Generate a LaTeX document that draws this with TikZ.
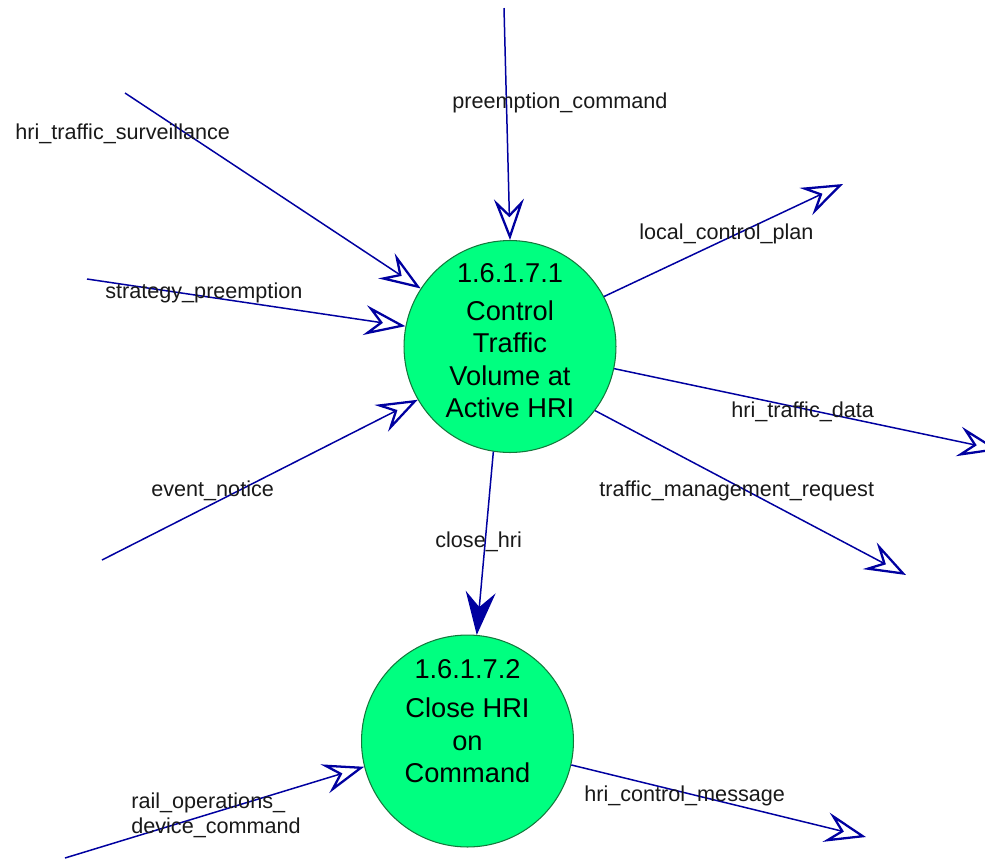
\documentclass[tikz,border=0pt]{standalone}
\usepackage{fontspec}
\setmainfont{Liberation Sans}
\usetikzlibrary{arrows.meta}
\definecolor{flowBlue}{RGB}{0,0,160}
\definecolor{procFill}{RGB}{0,255,128}
\definecolor{procEdge}{RGB}{20,120,60}

\begin{document}
\begin{tikzpicture}[x=0.02cm,y=-0.02cm,
                    procND/.style={circle,
                                   draw=procEdge,
                                   fill=procFill,
                                   line width=0.6pt,
                                   minimum size=4.24cm,
                                   inner sep=0pt},
                    procTxt/.style={anchor=north,
                                    align=center,
                                    inner sep=0pt,
                                    font=\fontsize{15.5}{18.5}\selectfont},
                    lblND/.style={anchor=base west,
                                  inner sep=0pt,
                                  text=black!90,
                                  font=\fontsize{12.3}{14.6}\selectfont},
                    flowND/.style={draw=flowBlue, line width=0.85pt,
                                   -{Stealth[open, length=0.82cm, width=0.6cm, inset=0.3cm, line width=1.3pt]}},
                    cmdND/.style={draw=flowBlue, line width=0.85pt,
                                  -{Stealth[length=0.86cm, width=0.6cm, inset=0.3cm]}}]
            \useasboundingbox (0,0) rectangle (985,860);
            % processes
            \node[procND](C1) at (510,346.5) {};
            \node[procND](C2) at (467.5,741) {};
            \node[procTxt](T1) at ([yshift=-0.46cm]C1.north)
                {1.6.1.7.1\\[3pt]Control\\Traffic\\Volume at\\Active HRI};
            \node[procTxt](T2) at ([yshift=-0.5cm]C2.north)
                {1.6.1.7.2\\[3.5pt]Close HRI\\on\\Command};
            % free ends
            \coordinate (pcIn)  at (504,8);
            \coordinate (tsIn)  at (125,93);
            \coordinate (spIn)  at (87,279);
            \coordinate (enIn)  at (102,560);
            \coordinate (rdIn)  at (65,858);
            \coordinate (lcOut) at (843,184);
            \coordinate (tdOut) at (999,450);
            \coordinate (tmOut) at (906,575);
            \coordinate (hcOut) at (866,837);
            \path
                (pcIn) edge [flowND] (C1.90)
                (tsIn) edge [flowND] (C1.147.5)
                (spIn) edge [flowND] (C1.169.2)
                (enIn) edge [flowND] (C1.210.6)
                (C1.28.3)  edge [flowND] (lcOut)
                (C1.-12.6) edge [flowND] (tdOut)
                (C1.-37.3) edge [flowND] (tmOut)
                (C1.-99.2) edge [cmdND]  (C2.85)
                (rdIn) edge [flowND] (C2.194.6)
                (C2.-13.7) edge [flowND] (hcOut)
                ;
            % flow labels
            \node[lblND](preCmd)  at (452,108) {preemption\_command};
            \node[lblND](hriSurv) at (15,139)  {hri\_traffic\_surveillance};
            \node[lblND](strPre)  at (105,298) {strategy\_preemption};
            \node[lblND](locPlan) at (639,239) {local\_control\_plan};
            \node[lblND](hriData) at (731,417) {hri\_traffic\_data};
            \node[lblND](tmReq)   at (599,496) {traffic\_management\_request};
            \node[lblND](evNot)   at (151,496) {event\_notice};
            \node[lblND](clHri)   at (435,547) {close\_hri};
            \node[lblND, anchor=north west, align=left](railCmd) at (131,792)
                {rail\_operations\_\\device\_command};
            \node[lblND](hriCtl)  at (584,801) {hri\_control\_message};
        \end{tikzpicture}
\end{document}
